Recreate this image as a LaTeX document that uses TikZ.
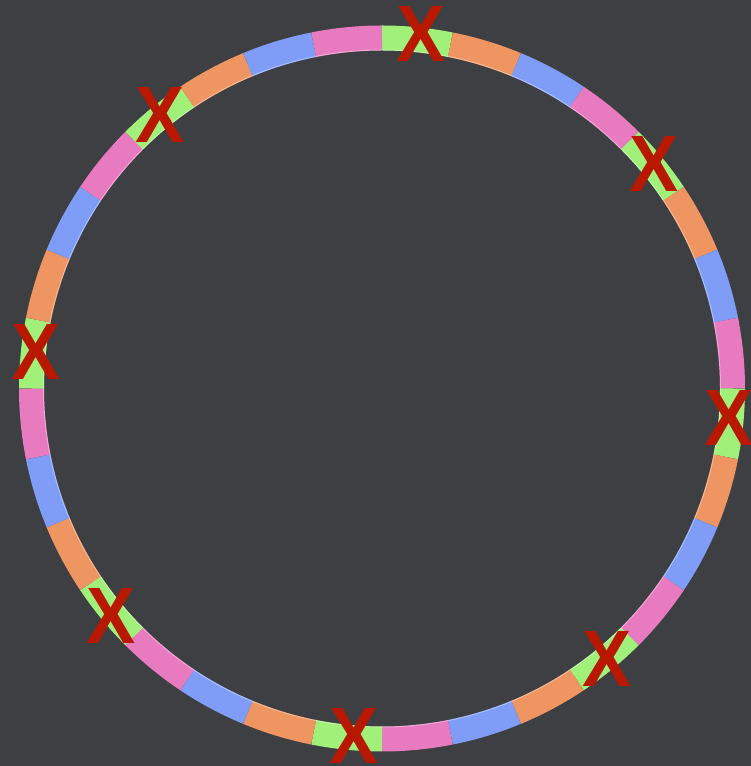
\documentclass[tikz,border=0pt]{standalone}
\usepackage{fontspec}
\newfontfamily\xfont{Liberation Sans}
\definecolor{bg}{HTML}{3E3F43}
\definecolor{seg0}{HTML}{A0F07A}
\definecolor{seg1}{HTML}{EE9561}
\definecolor{seg2}{HTML}{7F9DF7}
\definecolor{seg3}{HTML}{E87BC0}
\definecolor{xred}{HTML}{B81800}
\tikzset{
  ringseg/.style={line width=25pt},
  xmark/.style={text=xred, inner sep=0pt, font=\xfont\bfseries\fontsize{80}{80}\selectfont, xscale=0.92}
}
\begin{document}
\begin{tikzpicture}[x=1pt,y=1pt]
\fill[bg] (0,0) rectangle (751,766);
\useasboundingbox (0,0) rectangle (751,766);
\coordinate (c) at (382,377.5);
\foreach \i in {0,...,31}{
  \pgfmathtruncatemacro\k{mod(\i,4)}
  \pgfmathsetmacro\a{90-\i*11.25}
  \draw[ringseg, color=seg\k] ([shift={(\a:350.5)}]c) arc[start angle=\a, end angle=\a-11.25, radius=350.5];
}
\draw[white, opacity=0.35, line width=1pt] (c) circle[radius=338.5];
\node[xmark] (x0) at (421,732) {X};
\node[xmark] (x1) at (654,602.5) {X};
\node[xmark] (x2) at (729,348) {X};
\node[xmark] (x3) at (607.5,107.5) {X};
\node[xmark] (x4) at (354,30) {X};
\node[xmark] (x5) at (111.5,150.5) {X};
\node[xmark] (x6) at (36.5,414.5) {X};
\node[xmark] (x7) at (160,651) {X};
\end{tikzpicture}
\end{document}
